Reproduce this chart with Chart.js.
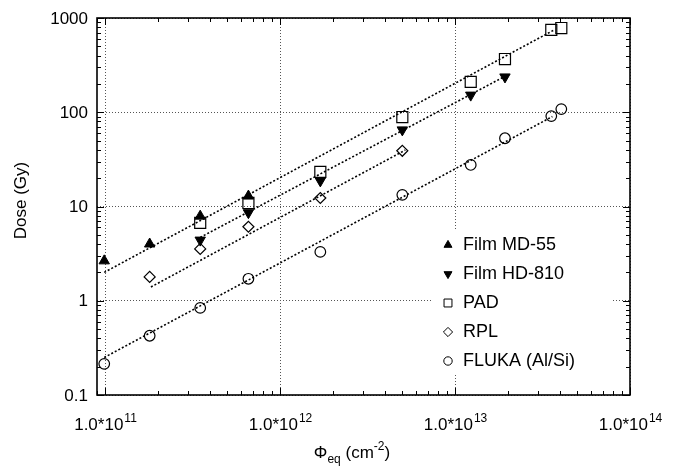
<!DOCTYPE html>
<html lang="en">
<head>
    <meta charset="UTF-8">
    <title>Dose vs fluence</title>
    <script src="https://cdn.jsdelivr.net/npm/chart.js"></script>
    <style>
        body { margin: 0; background: #fff; }
        canvas { display: block; }
    </style>
</head>
<body>
    <canvas id="doseChart" width="680" height="470"></canvas>

    <script>
        // measured points (fluence in cm^-2, dose in Gy)
        const mdX = [0.99e11, 1.8e11, 3.5e11, 6.6e11];
        const mdY = [2.65, 4.0, 7.9, 12.9];
        const hdX = [3.5e11, 6.6e11, 1.7e12, 5.0e12, 1.23e13, 1.93e13];
        const hdY = [4.4, 8.6, 18.7, 65, 152, 237];
        const padX = [3.5e11, 6.6e11, 1.7e12, 5.0e12, 1.23e13, 1.93e13, 3.55e13, 4.05e13];
        const padY = [6.7, 10.9, 23.3, 89, 210, 367, 747, 783];
        const rplX = [1.8e11, 3.5e11, 6.6e11, 1.7e12, 5.0e12];
        const rplY = [1.79, 3.55, 6.1, 12.3, 39];
        const flukaX = [0.99e11, 1.8e11, 3.5e11, 6.6e11, 1.7e12, 5.0e12, 1.23e13, 1.93e13, 3.55e13, 4.05e13];
        const flukaY = [0.214, 0.425, 0.84, 1.71, 3.3, 13.3, 27.6, 53, 91, 108];

        // dotted fit lines (end points)
        const fitTopX = [0.99e11, 3.7e13];
        const fitTopY = [2.0, 750];
        const fitHdX = [3.5e11, 1.9e13];
        const fitHdY = [4.7, 237];
        const fitRplX = [1.83e11, 5.2e12];
        const fitRplY = [1.4, 39.7];
        const fitFlukaX = [0.99e11, 3.6e13];
        const fitFlukaY = [0.25, 90];

        const seriesNames = ['Film MD-55', 'Film HD-810', 'PAD', 'RPL', 'FLUKA (Al/Si)'];
        const yTickLabels = ['0.1', '1', '10', '100', '1000'];
        const yTickValues = [0.1, 1, 10, 100, 1000];
        const xTickValues = [1e11, 1e12, 1e13, 1e14];
        const xTickExps = ['11', '12', '13', '14'];

        const pts = (xs, ys) => xs.map((x, i) => ({x: x, y: ys[i]}));

        const marker = (label, xs, ys, style, radius, filled, rotation) => ({
            label: label,
            data: pts(xs, ys),
            pointStyle: style,
            pointRadius: radius,
            pointRotation: rotation || 0,
            pointBackgroundColor: filled ? '#000' : 'rgba(0,0,0,0)',
            pointBorderColor: '#000',
            pointBorderWidth: filled ? 1 : 1.2,
            showLine: false,
            order: 1
        });

        const fit = (xs, ys) => ({
            label: 'fit',
            data: pts(xs, ys),
            showLine: true,
            pointRadius: 0,
            borderColor: '#000',
            borderWidth: 1.6,
            borderDash: [2, 2],
            order: 2
        });

        const isDecade = v => {
            const l = Math.log10(v);
            return Math.abs(l - Math.round(l)) < 1e-6;
        };

        const markerSets = [
            marker(seriesNames[0], mdX, mdY, 'triangle', 6, true, 0),
            marker(seriesNames[1], hdX, hdY, 'triangle', 6, true, 180),
            marker(seriesNames[2], padX, padY, 'rect', 7.8, false, 0),
            marker(seriesNames[3], rplX, rplY, 'rectRot', 5.5, false, 0),
            marker(seriesNames[4], flukaX, flukaY, 'circle', 5.3, false, 0)
        ];

        // frame, inward ticks, tick labels, titles and legend
        const decorPlugin = {
            id: 'decor',
            afterDraw(chart) {
                const ctx = chart.ctx;
                const a = chart.chartArea;
                const xs = chart.scales.x, ys = chart.scales.y;
                ctx.save();

                // inward ticks on all four sides
                ctx.strokeStyle = '#000';
                ctx.lineWidth = 1;
                ctx.beginPath();
                for (let d = 10; d <= 14; d++) {
                    for (let m = 1; m <= 9; m++) {
                        const v = m * Math.pow(10, d);
                        if (v < xs.min * 0.999 || v > xs.max * 1.001) continue;
                        const px = Math.round(xs.getPixelForValue(v)) + 0.5;
                        const len = m === 1 ? 7 : 4;
                        ctx.moveTo(px, a.bottom); ctx.lineTo(px, a.bottom - len);
                        ctx.moveTo(px, a.top); ctx.lineTo(px, a.top + len);
                    }
                }
                for (let d = -1; d <= 3; d++) {
                    for (let m = 1; m <= 9; m++) {
                        const v = m * Math.pow(10, d);
                        if (v < ys.min * 0.999 || v > ys.max * 1.001) continue;
                        const py = Math.round(ys.getPixelForValue(v)) + 0.5;
                        const len = m === 1 ? 7 : 4;
                        ctx.moveTo(a.left, py); ctx.lineTo(a.left + len, py);
                        ctx.moveTo(a.right, py); ctx.lineTo(a.right - len, py);
                    }
                }
                ctx.stroke();

                // frame
                ctx.lineWidth = 1.6;
                ctx.strokeRect(a.left, a.top, a.right - a.left, a.bottom - a.top);

                // y tick labels
                ctx.fillStyle = '#000';
                ctx.font = '17px "Liberation Sans", Arial, sans-serif';
                ctx.textAlign = 'right';
                ctx.textBaseline = 'middle';
                yTickValues.forEach((v, i) => {
                    ctx.fillText(yTickLabels[i], a.left - 9, ys.getPixelForValue(v) + 1);
                });

                // x tick labels with superscript exponent
                const base = '1.0*10';
                ctx.textBaseline = 'alphabetic';
                ctx.textAlign = 'left';
                xTickValues.forEach((v, i) => {
                    ctx.font = '17px "Liberation Sans", Arial, sans-serif';
                    const wb = ctx.measureText(base).width;
                    ctx.font = '12px "Liberation Sans", Arial, sans-serif';
                    const we = ctx.measureText(xTickExps[i]).width;
                    const cx = xs.getPixelForValue(v);
                    const x0 = cx - (wb + we) / 2;
                    ctx.font = '17px "Liberation Sans", Arial, sans-serif';
                    ctx.fillText(base, x0, a.bottom + 35);
                    ctx.font = '12px "Liberation Sans", Arial, sans-serif';
                    ctx.fillText(xTickExps[i], x0 + wb + 1, a.bottom + 27);
                });

                // x axis title: Phi_eq (cm^-2)
                const parts = [
                    ['\u03A6', '17px', 0],
                    ['eq', '12px', 5],
                    [' (cm', '17px', 0],
                    ['-2', '12px', -8],
                    [')', '17px', 0]
                ];
                let total = 0;
                parts.forEach(p => {
                    ctx.font = p[1] + ' "Liberation Sans", Arial, sans-serif';
                    total += ctx.measureText(p[0]).width;
                });
                let tx = 352 - total / 2;
                const tyBase = a.bottom + 63;
                parts.forEach(p => {
                    ctx.font = p[1] + ' "Liberation Sans", Arial, sans-serif';
                    ctx.fillText(p[0], tx, tyBase + p[2]);
                    tx += ctx.measureText(p[0]).width;
                });

                // y axis title
                ctx.save();
                ctx.translate(21, (a.top + a.bottom) / 2 - 6);
                ctx.rotate(-Math.PI / 2);
                ctx.textAlign = 'center';
                ctx.textBaseline = 'middle';
                ctx.font = '17px "Liberation Sans", Arial, sans-serif';
                ctx.fillText('Dose (Gy)', 0, 0);
                ctx.restore();

                // legend box inside the plot
                ctx.fillStyle = '#fff';
                ctx.fillRect(432, 230, 180, 144);
                const legendSizes = [4.6, 4.6, 5.6, 4.6, 4.2];
                markerSets.forEach((ds, i) => {
                    const ly = 244 + i * 29;
                    ctx.fillStyle = ds.pointBackgroundColor;
                    ctx.strokeStyle = '#000';
                    ctx.lineWidth = 1;
                    Chart.helpers.drawPoint(ctx, {
                        pointStyle: ds.pointStyle,
                        radius: legendSizes[i],
                        rotation: ds.pointRotation,
                        borderWidth: 1
                    }, 448, ly + 1);
                    ctx.fillStyle = '#000';
                    ctx.font = '18px "Liberation Sans", Arial, sans-serif';
                    ctx.textAlign = 'left';
                    ctx.textBaseline = 'middle';
                    ctx.fillText(ds.label, 463, ly + 1);
                });

                ctx.restore();
            }
        };

        new Chart(document.getElementById('doseChart'), {
            type: 'scatter',
            data: {
                datasets: markerSets.concat([
                    fit(fitTopX, fitTopY),
                    fit(fitHdX, fitHdY),
                    fit(fitRplX, fitRplY),
                    fit(fitFlukaX, fitFlukaY)
                ])
            },
            options: {
                responsive: false,
                animation: false,
                layout: { padding: { left: 97, right: 50, top: 18, bottom: 75 } },
                plugins: { legend: { display: false }, tooltip: { enabled: false } },
                scales: {
                    x: {
                        type: 'logarithmic',
                        min: Math.pow(10, 11 - 8 / 175),
                        max: 1e14,
                        ticks: { display: false },
                        grid: {
                            drawTicks: false,
                            lineWidth: 1,
                            color: c => (c.tick && isDecade(c.tick.value)) ? '#555' : 'rgba(0,0,0,0)'
                        },
                        border: { display: false, dash: [1, 2] },
                        afterFit(s) { s.height = 0; }
                    },
                    y: {
                        type: 'logarithmic',
                        min: 0.1,
                        max: 1000,
                        ticks: { display: false },
                        grid: {
                            drawTicks: false,
                            lineWidth: 1,
                            color: c => (c.tick && isDecade(c.tick.value)) ? '#555' : 'rgba(0,0,0,0)'
                        },
                        border: { display: false, dash: [1, 2] },
                        afterFit(s) { s.width = 0; }
                    }
                }
            },
            plugins: [decorPlugin]
        });
    </script>
</body>
</html>
